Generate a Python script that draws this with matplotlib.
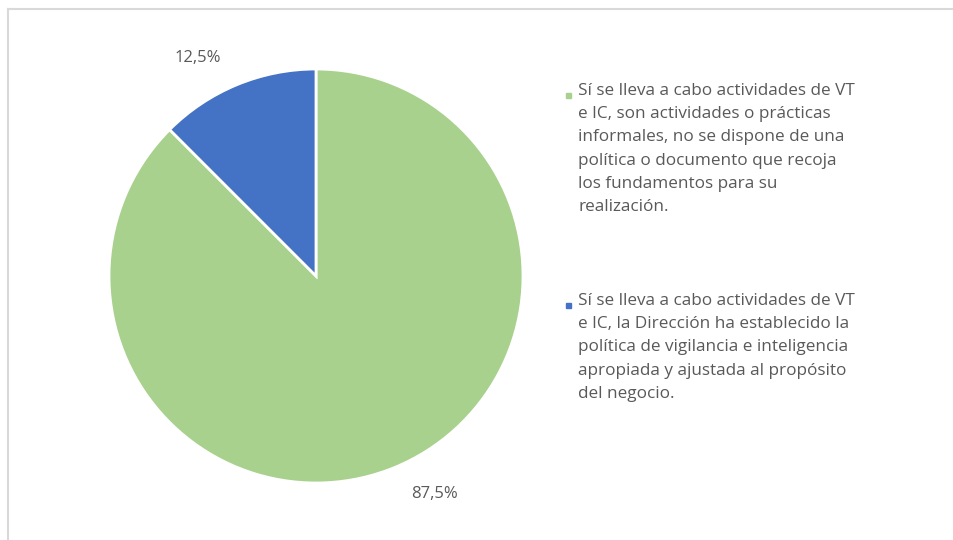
import matplotlib
import matplotlib.pyplot as plt
import numpy as np
from matplotlib.lines import Line2D
from matplotlib.patches import Rectangle
matplotlib.use('Agg')

plt.rcParams['font.family'] = ['Open Sans', 'DejaVu Sans']

labels = [
    'Sí se lleva a cabo actividades de VT\ne IC, son actividades o prácticas\ninformales, no se dispone de una\npolítica o documento que recoja\nlos fundamentos para su\nrealización.',
    'Sí se lleva a cabo actividades de VT\ne IC, la Dirección ha establecido la\npolítica de vigilancia e inteligencia\napropiada y ajustada al propósito\ndel negocio.',
]
values = [87.5, 12.5]
colors = ['#A9D18E', '#4472C4']
text_color = '#595959'

fig = plt.figure(figsize=(9.54, 5.40), dpi=100)

# light frame like the original screenshot
fig.add_artist(Line2D([8 / 954, 8 / 954], [0, 1 - 9 / 540], color='#d9d9d9', lw=1.5))
fig.add_artist(Line2D([8 / 954, 1], [1 - 9 / 540, 1 - 9 / 540], color='#d9d9d9', lw=1.5))

ax = fig.add_axes([109 / 954, 56 / 540, 414 / 954, 416 / 540])
wedges, texts, autotexts = ax.pie(
    values, colors=colors, startangle=90, counterclock=False,
    wedgeprops=dict(edgecolor='white', linewidth=2),
    autopct=lambda p: f'{p:.1f}%'.replace('.', ','),
    textprops=dict(color=text_color, fontsize=12))
# excel-like label placement, slightly rotated from slice middle
for w, t in zip(wedges, autotexts):
    ang = np.deg2rad((w.theta1 + w.theta2) / 2 + 6)
    t.set_position((1.2 * np.cos(ang), 1.2 * np.sin(ang)))
ax.set_xlim(-1, 1)
ax.set_ylim(-1, 1)
ax.set_aspect('equal')
ax.axis('off')

# legend on the right, marker aligned with first line
legend_tops = [1 - 83 / 540, 1 - 293 / 540]
for lab, col, top in zip(labels, colors, legend_tops):
    fig.text(578 / 954, top, lab, ha='left', va='top', color=text_color,
             fontsize=12.3, linespacing=1.6)
    fig.add_artist(Rectangle((566 / 954, top - 15 / 540), 5 / 954, 5 / 540,
                             transform=fig.transFigure, color=col))

plt.savefig('out.png', dpi=100)
plt.close()
